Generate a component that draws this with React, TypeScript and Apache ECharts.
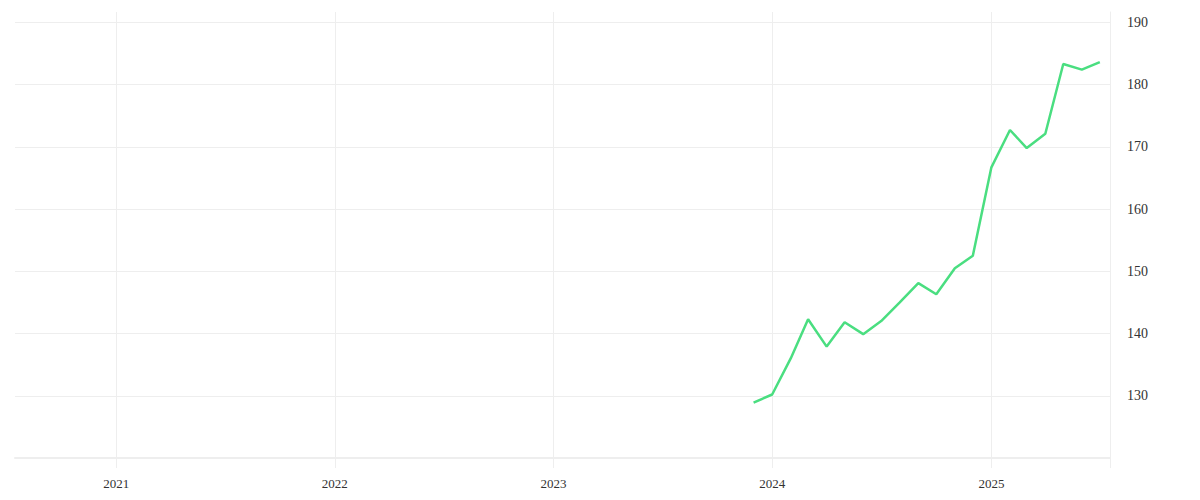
import React, { useRef, useEffect } from 'react'
import * as echarts from 'echarts'

// 月度数据
const dates = [
  '2023-12-01', '2024-01-01', '2024-02-01', '2024-03-01', '2024-04-01',
  '2024-05-01', '2024-06-01', '2024-07-01', '2024-08-01', '2024-09-01',
  '2024-10-01', '2024-11-01', '2024-12-01', '2025-01-01', '2025-02-01',
  '2025-03-01', '2025-04-01', '2025-05-01', '2025-06-01', '2025-07-01'
]
const values = [
  128.9, 130.2, 136.0, 142.3, 137.9,
  141.8, 139.9, 142.0, 145.0, 148.1,
  146.3, 150.5, 152.5, 166.7, 172.7,
  169.8, 172.1, 183.3, 182.4, 183.6
]
const yearTicks = ['2021-01-01', '2022-01-01', '2023-01-01', '2024-01-01', '2025-01-01']
const xMin = '2020-07-16'
const xMax = '2025-07-18'
const yMin = 120
const yMax = 191.66

const App: React.FC = () => {
  const chartRef = useRef<HTMLDivElement>(null)

  useEffect(() => {
    if (!chartRef.current) return
    const chart = echarts.init(chartRef.current, undefined, { renderer: 'svg' })

    // 日期转时间戳（数值轴）
    const ts = (s: string) => new Date(s + 'T00:00:00').getTime()
    const tickValues = [...yearTicks.map(ts), ts(xMax)]

    chart.setOption({
      animation: false,
      textStyle: { fontFamily: 'serif' },
      grid: { left: 15, right: 90, top: 12, bottom: 42 },
      xAxis: {
        type: 'value',
        min: ts(xMin),
        max: ts(xMax),
        axisLine: { lineStyle: { color: '#eeeeee', width: 2 } },
        axisTick: {
          show: true,
          length: 10,
          customValues: tickValues,
          lineStyle: { color: '#eeeeee' }
        },
        axisLabel: {
          customValues: yearTicks.map(ts),
          color: '#333',
          fontSize: 13,
          margin: 19,
          formatter: (v: number) => String(new Date(v).getFullYear())
        },
        splitLine: { show: true, lineStyle: { color: '#eeeeee' } }
      },
      yAxis: {
        type: 'value',
        position: 'right',
        min: yMin,
        max: yMax,
        interval: 10,
        axisLine: { show: true, lineStyle: { color: '#eeeeee' } },
        axisTick: { show: false },
        axisLabel: {
          color: '#333',
          fontSize: 14,
          margin: 17,
          showMinLabel: false,
          showMaxLabel: false,
          formatter: (v: number) => (v % 10 === 0 ? String(v) : '')
        },
        splitLine: {
          show: true,
          showMinLine: false,
          showMaxLine: false,
          lineStyle: { color: '#eeeeee' }
        }
      },
      series: [
        {
          type: 'line',
          data: dates.map((d, i) => [ts(d), values[i]]),
          symbol: 'none',
          lineStyle: { color: '#4ade80', width: 2.5 }
        }
      ]
    })

    return () => {
      chart.dispose()
    }
  }, [])

  return (
    <div
      ref={chartRef}
      style={{ position: 'fixed', left: 0, top: 0, width: 1200, height: 500, background: '#fff' }}
    />
  )
}

export default App
